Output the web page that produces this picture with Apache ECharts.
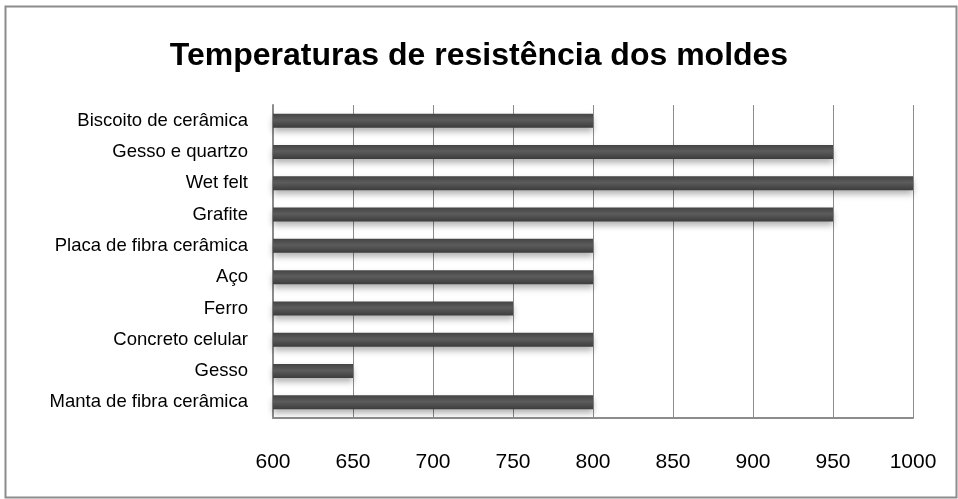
<!DOCTYPE html>
<html><head><meta charset="utf-8">
<script src="https://cdn.jsdelivr.net/npm/echarts@6/dist/echarts.min.js"></script>
<style>html,body{margin:0;padding:0;background:#fff}#c{width:958px;height:499px}</style>
</head><body><div id="c"></div>
<script>
const categories = ["Biscoito de cerâmica","Gesso e quartzo","Wet felt","Grafite","Placa de fibra cerâmica","Aço","Ferro","Concreto celular","Gesso","Manta de fibra cerâmica"];
const values = [800, 950, 1000, 950, 800, 800, 750, 800, 650, 800];
const titleText = "Temperaturas de resistência dos moldes";
const xMin = 600, xMax = 1000, xStep = 50;

const chart = echarts.init(document.getElementById('c'), null, {renderer:'canvas'});
chart.setOption({
  animation:false,
  graphic:[{type:'rect',shape:{x:5.5,y:6.5,width:951,height:491},style:{fill:'none',stroke:'#8c8c8c',lineWidth:2},z:-1}],
  title:{text:titleText,left:'center',top:35,textStyle:{fontFamily:'Liberation Sans',fontWeight:'bold',fontSize:32,color:'#000'}},
  grid:{left:273,right:45,top:105,bottom:81},
  xAxis:{type:'value',min:xMin,max:xMax,interval:xStep,
    axisLine:{show:true,lineStyle:{color:'#8c8c8c',width:2}},
    axisTick:{show:false},
    axisLabel:{margin:34,fontFamily:'Liberation Sans',fontSize:21,color:'#000',formatter:v=>String(v)},
    splitLine:{show:true,lineStyle:{color:'#8c8c8c',width:1}}},
  yAxis:{type:'category',data:categories,inverse:true,
    axisLine:{show:true,lineStyle:{color:'#8c8c8c',width:2}},
    axisTick:{show:false},
    axisLabel:{margin:25,fontFamily:'Liberation Sans',fontSize:18.5,color:'#000'}},
  series:[{type:'bar',data:values,barWidth:14,
    itemStyle:{color:new echarts.graphic.LinearGradient(0,0,0,1,[{offset:0,color:'#444'},{offset:0.45,color:'#5c5c5c'},{offset:1,color:'#3c3c3c'}]),
      shadowColor:'rgba(0,0,0,0.3)',shadowBlur:6,shadowOffsetY:4}}]
});
</script></body></html>
